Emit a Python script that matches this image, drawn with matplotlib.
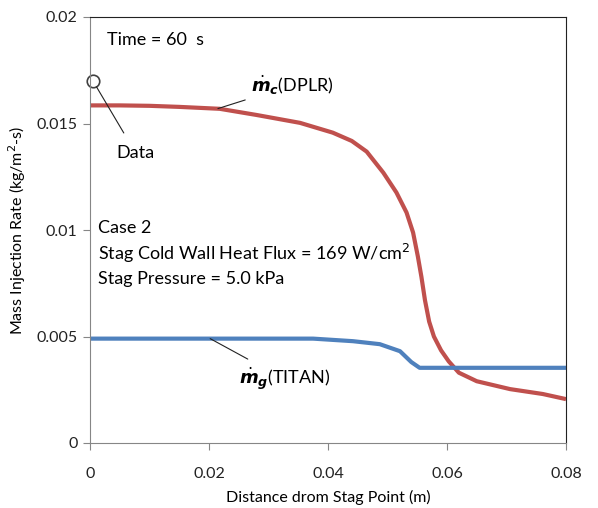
import matplotlib.pyplot as plt

# DPLR char mass injection rate along the surface
x_dplr = [0.0, 0.005, 0.010, 0.015, 0.0218, 0.0280, 0.0353, 0.0408, 0.0440,
          0.0465, 0.0493, 0.0515, 0.0532, 0.0543, 0.0551, 0.0557, 0.0563,
          0.0570, 0.0578, 0.0590, 0.0603, 0.0620, 0.0650, 0.0706, 0.0761, 0.080]
m_dplr = [0.01585, 0.01585, 0.01583, 0.01578, 0.01569, 0.01540, 0.01503,
          0.01457, 0.01418, 0.01368, 0.01269, 0.01176, 0.01082, 0.00988,
          0.00876, 0.00780, 0.00670, 0.00570, 0.00500, 0.00435, 0.00383,
          0.00330, 0.00290, 0.00253, 0.00230, 0.00206]

# TITAN gas injection rate
x_titan = [0.0, 0.010, 0.020, 0.030, 0.0375, 0.0442, 0.0487, 0.0521, 0.0540,
           0.0554, 0.060, 0.070, 0.080]
m_titan = [0.00490, 0.00490, 0.00490, 0.00490, 0.00490, 0.00478, 0.00464,
           0.00431, 0.00380, 0.00353, 0.00353, 0.00353, 0.00353]

# measured point at the stagnation point
x_data = [0.0005]
m_data = [0.0170]

plt.rcParams['font.family'] = ['Lato', 'DejaVu Sans']
plt.rcParams['mathtext.fontset'] = 'dejavusans'

fig = plt.figure(figsize=(5.98, 5.08), dpi=100)
ax = fig.add_axes([90 / 598, 65 / 508, 476 / 598, 426 / 508])

ax.plot(x_dplr, m_dplr, color='#c0504d', lw=3, solid_capstyle='butt', solid_joinstyle='round')
ax.plot(x_titan, m_titan, color='#4f81bd', lw=3, solid_capstyle='butt', solid_joinstyle='round')
ax.plot(x_data, m_data, 'o', mfc='none', mec='#404040', ms=9, mew=1.2, clip_on=False)

ax.set_xlim(0, 0.08)
ax.set_ylim(0, 0.02)
ax.set_xticks([0, 0.02, 0.04, 0.06, 0.08])
ax.set_xticklabels(['0', '0.02', '0.04', '0.06', '0.08'])
ax.set_yticks([0, 0.005, 0.01, 0.015, 0.02])
ax.set_yticklabels(['0', '0.005', '0.01', '0.015', '0.02'])
ax.tick_params(direction='out', length=5, color='#868686', labelsize=11.5,
               labelcolor='#222222', pad=4)
ax.tick_params(axis='x', pad=12)
for s in ['left', 'bottom']:
    ax.spines[s].set_color('#868686')
for s in ['top', 'right']:
    ax.spines[s].set_color('#222222')

ax.set_xlabel('Distance drom Stag Point (m)', fontsize=11.5, labelpad=7)
ax.set_ylabel('Mass Injection Rate (kg/m$^2$-s)', fontsize=11.5, labelpad=6)

# annotations
fs = 13
ax.text(0.0028, 0.0189, 'Time = 60  s', fontsize=fs, va='center')
ax.text(0.0013, 0.0101, 'Case 2', fontsize=fs, va='center')
ax.text(0.0013, 0.0089, 'Stag Cold Wall Heat Flux = 169 W/cm$^2$', fontsize=fs, va='center')
ax.text(0.0013, 0.0077, 'Stag Pressure = 5.0 kPa', fontsize=fs, va='center')

ax.annotate(r'$\dot{\mathbfit{m}}_{\mathbfit{c}}$(DPLR)', xy=(0.0215, 0.0157),
            xytext=(0.0270, 0.0168), fontsize=fs, va='center',
            arrowprops=dict(arrowstyle='-', color='#222222', lw=0.8, shrinkA=2, shrinkB=0))
ax.annotate('Data', xy=(x_data[0], m_data[0]), xytext=(0.0045, 0.0136),
            fontsize=fs, va='center',
            arrowprops=dict(arrowstyle='-', color='#222222', lw=0.8, shrinkA=8, shrinkB=5))
ax.annotate(r'$\dot{\mathbfit{m}}_{\mathbfit{g}}$(TITAN)', xy=(0.0202, 0.0049),
            xytext=(0.0250, 0.0030), fontsize=fs, va='center',
            arrowprops=dict(arrowstyle='-', color='#222222', lw=0.8, shrinkA=6, shrinkB=0))

fig.savefig('out.png', dpi=100, facecolor='white')
